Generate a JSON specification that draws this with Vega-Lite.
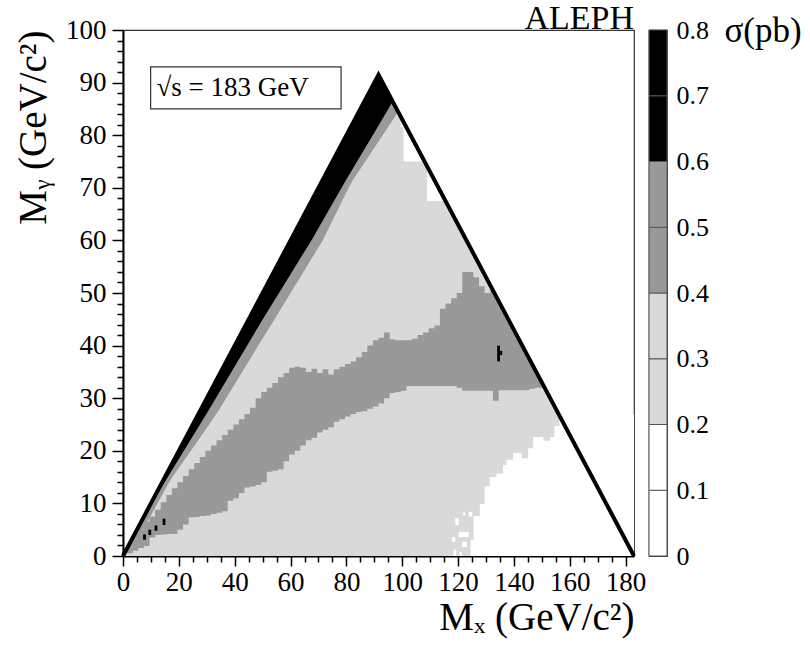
{
  "$schema": "https://vega.github.io/schema/vega-lite/v6.json",
  "background": "white",
  "padding": {"left": 13, "top": 1, "right": 5, "bottom": 5},
  "config": {
    "font": "Liberation Serif",
    "view": {"stroke": "#333", "strokeWidth": 1.2},
    "axis": {"grid": false, "labelFont": "Liberation Serif", "titleFont": "Liberation Serif", "labelColor": "#000", "titleColor": "#000", "titleFontWeight": "normal"}
  },
  "datasets": {
    "triangle": [
      {"mx": 0, "lo": 0, "hi": 0, "s": 0.3},
      {"mx": 91.5, "lo": 0, "hi": 91.5, "s": 0.3},
      {"mx": 183, "lo": 0, "hi": 0, "s": 0.3}
    ],
    "lowwhite": [
      {"mx": 124.5, "lo": 0, "hi": 3, "s": 0.1},
      {"mx": 125.5, "lo": 0, "hi": 7.6, "s": 0.1},
      {"mx": 127.8, "lo": 0, "hi": 9.9, "s": 0.1},
      {"mx": 129.5, "lo": 0, "hi": 13.2, "s": 0.1},
      {"mx": 131.3, "lo": 0, "hi": 15, "s": 0.1},
      {"mx": 133.7, "lo": 0, "hi": 15.7, "s": 0.1},
      {"mx": 136.1, "lo": 0, "hi": 17.3, "s": 0.1},
      {"mx": 137.3, "lo": 0, "hi": 18.3, "s": 0.1},
      {"mx": 139.7, "lo": 0, "hi": 19.6, "s": 0.1},
      {"mx": 142.7, "lo": 0, "hi": 18.6, "s": 0.1},
      {"mx": 145.1, "lo": 0, "hi": 20.5, "s": 0.1},
      {"mx": 146.9, "lo": 0, "hi": 22.6, "s": 0.1},
      {"mx": 150.5, "lo": 0, "hi": 21.9, "s": 0.1},
      {"mx": 152.9, "lo": 0, "hi": 22.6, "s": 0.1},
      {"mx": 154.5, "lo": 0, "hi": 24.7, "s": 0.1},
      {"mx": 156.3, "lo": 0, "hi": 27, "s": 0.1},
      {"mx": 183, "lo": 0, "hi": 27, "s": 0.1}
    ],
    "topwhite": [
      {"mx": 99.5, "lo": 81.5, "hi": 95, "s": 0.1},
      {"mx": 100.5, "lo": 75, "hi": 95, "s": 0.1},
      {"mx": 108.9, "lo": 67.5, "hi": 95, "s": 0.1},
      {"mx": 114.5, "lo": 95, "hi": 95, "s": 0.1}
    ],
    "mainband": [
      {"mx": 1.5, "lo": 0.5, "hi": 1.5, "s": 0.5},
      {"mx": 3.5, "lo": 1, "hi": 3.5, "s": 0.5},
      {"mx": 5.5, "lo": 1.5, "hi": 5, "s": 0.5},
      {"mx": 7.5, "lo": 1.9, "hi": 6.5, "s": 0.5},
      {"mx": 9.5, "lo": 3.5, "hi": 7.5, "s": 0.5},
      {"mx": 11.5, "lo": 4, "hi": 8.8, "s": 0.5},
      {"mx": 13.5, "lo": 4.1, "hi": 10.2, "s": 0.5},
      {"mx": 15.5, "lo": 4.2, "hi": 11.6, "s": 0.5},
      {"mx": 17.5, "lo": 4.2, "hi": 12.9, "s": 0.5},
      {"mx": 19.5, "lo": 5, "hi": 14, "s": 0.5},
      {"mx": 21.5, "lo": 6, "hi": 15.2, "s": 0.5},
      {"mx": 23.5, "lo": 7.3, "hi": 16.5, "s": 0.5},
      {"mx": 25.5, "lo": 7.4, "hi": 17.7, "s": 0.5},
      {"mx": 27.5, "lo": 7.6, "hi": 18.8, "s": 0.5},
      {"mx": 29.5, "lo": 7.7, "hi": 20, "s": 0.5},
      {"mx": 31.5, "lo": 8, "hi": 21, "s": 0.5},
      {"mx": 33.5, "lo": 8.2, "hi": 22, "s": 0.5},
      {"mx": 35.5, "lo": 8.5, "hi": 23, "s": 0.5},
      {"mx": 37.5, "lo": 10.5, "hi": 24, "s": 0.5},
      {"mx": 39.5, "lo": 11, "hi": 25, "s": 0.5},
      {"mx": 41.5, "lo": 12, "hi": 26, "s": 0.5},
      {"mx": 43.5, "lo": 13, "hi": 27, "s": 0.5},
      {"mx": 45.5, "lo": 13.2, "hi": 28.2, "s": 0.5},
      {"mx": 47.5, "lo": 13.5, "hi": 30, "s": 0.5},
      {"mx": 49.5, "lo": 14, "hi": 31.2, "s": 0.5},
      {"mx": 51.5, "lo": 16, "hi": 32, "s": 0.5},
      {"mx": 53.5, "lo": 16.2, "hi": 32.9, "s": 0.5},
      {"mx": 55.5, "lo": 16.5, "hi": 34, "s": 0.5},
      {"mx": 57.5, "lo": 18, "hi": 34.8, "s": 0.5},
      {"mx": 59.5, "lo": 19.3, "hi": 35.8, "s": 0.5},
      {"mx": 61.5, "lo": 20, "hi": 36, "s": 0.5},
      {"mx": 63.5, "lo": 21, "hi": 35.8, "s": 0.5},
      {"mx": 65.5, "lo": 22, "hi": 35, "s": 0.5},
      {"mx": 67.5, "lo": 22.5, "hi": 35.6, "s": 0.5},
      {"mx": 69.5, "lo": 23.5, "hi": 34.8, "s": 0.5},
      {"mx": 71.5, "lo": 24, "hi": 35.5, "s": 0.5},
      {"mx": 73.5, "lo": 24.5, "hi": 34.5, "s": 0.5},
      {"mx": 75.5, "lo": 25.5, "hi": 35.5, "s": 0.5},
      {"mx": 77.5, "lo": 26, "hi": 36, "s": 0.5},
      {"mx": 79.5, "lo": 26.5, "hi": 36.5, "s": 0.5},
      {"mx": 81.5, "lo": 27, "hi": 37, "s": 0.5},
      {"mx": 83.5, "lo": 27.4, "hi": 37.8, "s": 0.5},
      {"mx": 85.5, "lo": 27.5, "hi": 38.8, "s": 0.5},
      {"mx": 87.5, "lo": 28, "hi": 40, "s": 0.5},
      {"mx": 89.5, "lo": 28.4, "hi": 41, "s": 0.5},
      {"mx": 91.5, "lo": 29, "hi": 41.5, "s": 0.5},
      {"mx": 93.5, "lo": 30, "hi": 42.5, "s": 0.5},
      {"mx": 95.5, "lo": 31, "hi": 41.2, "s": 0.5},
      {"mx": 97.5, "lo": 31.2, "hi": 41, "s": 0.5},
      {"mx": 99.5, "lo": 31.4, "hi": 41, "s": 0.5},
      {"mx": 101.5, "lo": 32.3, "hi": 41, "s": 0.5},
      {"mx": 103.5, "lo": 32.3, "hi": 41.3, "s": 0.5},
      {"mx": 105.5, "lo": 32.3, "hi": 42, "s": 0.5},
      {"mx": 107.5, "lo": 32.3, "hi": 42.5, "s": 0.5},
      {"mx": 109.5, "lo": 32.3, "hi": 43.3, "s": 0.5},
      {"mx": 111.5, "lo": 32.3, "hi": 43.8, "s": 0.5},
      {"mx": 113.5, "lo": 32.3, "hi": 47, "s": 0.5},
      {"mx": 115.5, "lo": 32.3, "hi": 48, "s": 0.5},
      {"mx": 117.5, "lo": 32.3, "hi": 49, "s": 0.5},
      {"mx": 119.5, "lo": 32, "hi": 50, "s": 0.5},
      {"mx": 121.5, "lo": 31.4, "hi": 54, "s": 0.5},
      {"mx": 123.5, "lo": 31.4, "hi": 54, "s": 0.5},
      {"mx": 125.5, "lo": 31.4, "hi": 53, "s": 0.5},
      {"mx": 127.5, "lo": 31.4, "hi": 51.3, "s": 0.5},
      {"mx": 129.5, "lo": 31.4, "hi": 50, "s": 0.5},
      {"mx": 131.5, "lo": 31.4, "hi": 50.5, "s": 0.5},
      {"mx": 132.5, "lo": 29.5, "hi": 49.5, "s": 0.5},
      {"mx": 133.5, "lo": 29.5, "hi": 48.5, "s": 0.5},
      {"mx": 134.5, "lo": 31.5, "hi": 47.5, "s": 0.5},
      {"mx": 135.5, "lo": 31.5, "hi": 46.5, "s": 0.5},
      {"mx": 136.5, "lo": 31.5, "hi": 45.5, "s": 0.5},
      {"mx": 137.5, "lo": 31.5, "hi": 44.5, "s": 0.5},
      {"mx": 138.5, "lo": 31.5, "hi": 43.5, "s": 0.5},
      {"mx": 139.5, "lo": 31.5, "hi": 42.5, "s": 0.5},
      {"mx": 140.5, "lo": 31.5, "hi": 41.5, "s": 0.5},
      {"mx": 141.5, "lo": 31.5, "hi": 40.5, "s": 0.5},
      {"mx": 142.5, "lo": 31.5, "hi": 39.5, "s": 0.5},
      {"mx": 143.5, "lo": 31.5, "hi": 38.5, "s": 0.5},
      {"mx": 144.5, "lo": 31.5, "hi": 37.5, "s": 0.5},
      {"mx": 145.5, "lo": 31.8, "hi": 36.5, "s": 0.5},
      {"mx": 146.5, "lo": 31.8, "hi": 35.5, "s": 0.5},
      {"mx": 147.5, "lo": 32, "hi": 34.5, "s": 0.5},
      {"mx": 148.5, "lo": 32, "hi": 33.5, "s": 0.5},
      {"mx": 149.5, "lo": 32, "hi": 32.5, "s": 0.5},
      {"mx": 150.5, "lo": 32, "hi": 32, "s": 0.5}
    ],
    "diaggray": [
      {"mx": 0, "lo": 0, "hi": 0, "s": 0.5},
      {"mx": 4, "lo": 2, "hi": 4, "s": 0.5},
      {"mx": 8, "lo": 5.8, "hi": 8, "s": 0.5},
      {"mx": 16.8, "lo": 14.3, "hi": 15.6, "s": 0.5},
      {"mx": 30.6, "lo": 24.8, "hi": 27.6, "s": 0.5},
      {"mx": 34.2, "lo": 27.6, "hi": 30.8, "s": 0.5},
      {"mx": 49.7, "lo": 41.1, "hi": 44.7, "s": 0.5},
      {"mx": 53.9, "lo": 44.7, "hi": 48.3, "s": 0.5},
      {"mx": 67.5, "lo": 56.5, "hi": 60, "s": 0.5},
      {"mx": 71.5, "lo": 60, "hi": 63.7, "s": 0.5},
      {"mx": 79.7, "lo": 68.8, "hi": 71.3, "s": 0.5},
      {"mx": 82.1, "lo": 71.3, "hi": 73.4, "s": 0.5},
      {"mx": 91.5, "lo": 78.8, "hi": 81.8, "s": 0.5},
      {"mx": 96.6, "lo": 82.9, "hi": 86.4, "s": 0.5},
      {"mx": 98.5, "lo": 84.5, "hi": 84.5, "s": 0.5}
    ],
    "diagblack": [
      {"mx": 8, "lo": 8, "hi": 8, "s": 0.7},
      {"mx": 30.6, "lo": 27.6, "hi": 30.6, "s": 0.7},
      {"mx": 49.7, "lo": 44.7, "hi": 49.7, "s": 0.7},
      {"mx": 67.5, "lo": 60, "hi": 67.5, "s": 0.7},
      {"mx": 79.7, "lo": 71.3, "hi": 79.7, "s": 0.7},
      {"mx": 91.5, "lo": 81.8, "hi": 91.5, "s": 0.7},
      {"mx": 96.6, "lo": 86.4, "hi": 86.4, "s": 0.7}
    ],
    "cells": [
      {"mx": 7.2, "mx2": 8.2, "lo": 3.1, "hi": 4.1, "s": 0.7},
      {"mx": 9.1, "mx2": 10.1, "lo": 4.0, "hi": 5.0, "s": 0.7},
      {"mx": 11.3, "mx2": 12.3, "lo": 4.8, "hi": 5.8, "s": 0.7},
      {"mx": 14.2, "mx2": 15.2, "lo": 5.9, "hi": 7.1, "s": 0.7},
      {"mx": 134.0, "mx2": 135.0, "lo": 37.0, "hi": 40.0, "s": 0.7},
      {"mx": 135.0, "mx2": 135.8, "lo": 38.2, "hi": 39.0, "s": 0.7},
      {"mx": 119.0, "mx2": 120.2, "lo": 5.9, "hi": 7.2, "s": 0.1},
      {"mx": 120.2, "mx2": 123.8, "lo": 3.6, "hi": 4.6, "s": 0.1},
      {"mx": 117.8, "mx2": 119.0, "lo": 2.7, "hi": 3.6, "s": 0.1},
      {"mx": 121.4, "mx2": 123.2, "lo": 1.7, "hi": 2.7, "s": 0.1},
      {"mx": 121.8, "mx2": 122.5, "lo": 7.7, "hi": 8.3, "s": 0.1},
      {"mx": 123.8, "mx2": 125.1, "lo": 7.5, "hi": 8.4, "s": 0.1},
      {"mx": 118.3, "mx2": 119.3, "lo": 0, "hi": 1.2, "s": 0.1},
      {"mx": 120.5, "mx2": 121.3, "lo": 0, "hi": 0.8, "s": 0.1}
    ],
    "kinematic": [
      {"mx": 0, "my": 0},
      {"mx": 91.5, "my": 91.5},
      {"mx": 183, "my": 0}
    ],
    "scale": [
      {"lo": 0.0, "hi": 0.1, "s": 0.05},
      {"lo": 0.1, "hi": 0.2, "s": 0.15},
      {"lo": 0.2, "hi": 0.3, "s": 0.25},
      {"lo": 0.3, "hi": 0.4, "s": 0.35},
      {"lo": 0.4, "hi": 0.5, "s": 0.45},
      {"lo": 0.5, "hi": 0.6, "s": 0.55},
      {"lo": 0.6, "hi": 0.7, "s": 0.65},
      {"lo": 0.7, "hi": 0.8, "s": 0.75}
    ]
  },
  "spacing": 0,
  "hconcat": [
    {
      "width": 511,
      "height": 526,
      "resolve": {"axis": {"x": "independent", "y": "independent"}},
      "layer": [
        {
          "data": {"name": "triangle"},
          "mark": {"type": "area", "interpolate": "linear"},
          "encoding": {
            "x": {
              "field": "mx", "type": "quantitative",
              "scale": {"domain": [0, 183], "nice": false, "zero": false},
              "axis": {
                "orient": "bottom",
                "values": [0, 5, 10, 15, 20, 25, 30, 35, 40, 45, 50, 55, 60, 65, 70, 75, 80, 85, 90, 95, 100, 105, 110, 115, 120, 125, 130, 135, 140, 145, 150, 155, 160, 165, 170, 175, 180],
                "labelExpr": "datum.value % 20 === 0 ? datum.label : ''",
                "tickSize": {"condition": {"test": "datum.value % 20 === 0", "value": 10}, "value": 6},
                "labelOverlap": false, "labelFlush": false, "labelBound": false,
                "domainColor": "#000", "domainWidth": 2, "tickColor": "#000", "tickWidth": 1.5,
                "labelFontSize": 27, "labelPadding": 3,
                "title": "Mₓ (GeV/c²)", "titleAnchor": "end", "titleFontSize": 39, "titlePadding": 3
              }
            },
            "y": {
              "field": "lo", "type": "quantitative",
              "scale": {"domain": [0, 100], "nice": false, "zero": false},
              "axis": {
                "orient": "left",
                "values": [0, 2, 4, 6, 8, 10, 12, 14, 16, 18, 20, 22, 24, 26, 28, 30, 32, 34, 36, 38, 40, 42, 44, 46, 48, 50, 52, 54, 56, 58, 60, 62, 64, 66, 68, 70, 72, 74, 76, 78, 80, 82, 84, 86, 88, 90, 92, 94, 96, 98, 100],
                "labelExpr": "datum.value % 10 === 0 ? datum.label : ''",
                "tickSize": {"condition": {"test": "datum.value % 10 === 0", "value": 11}, "value": 6},
                "labelOverlap": false, "labelFlush": false, "labelBound": false,
                "domainColor": "#000", "domainWidth": 2, "tickColor": "#000", "tickWidth": 1.5,
                "labelFontSize": 27, "labelPadding": 6,
                "title": "Mᵧ (GeV/c²)", "titleAnchor": "end", "titleFontSize": 39, "titlePadding": 12
              }
            },
            "y2": {"field": "hi"},
            "color": {"field": "s", "type": "quantitative", "scale": {"type": "threshold", "domain": [0.2, 0.4, 0.6], "range": ["#ffffff", "#d9d9d9", "#999999", "#000000"]}, "legend": null}
          }
        },
        {
          "data": {"name": "lowwhite"},
          "mark": {"type": "area", "interpolate": "step-after"},
          "encoding": {
            "x": {"field": "mx", "type": "quantitative", "axis": null},
            "y": {"field": "lo", "type": "quantitative", "axis": null},
            "y2": {"field": "hi"},
            "color": {"field": "s", "type": "quantitative", "scale": {"type": "threshold", "domain": [0.2, 0.4, 0.6], "range": ["#ffffff", "#d9d9d9", "#999999", "#000000"]}, "legend": null}
          }
        },
        {
          "data": {"name": "topwhite"},
          "mark": {"type": "area", "interpolate": "step-after"},
          "encoding": {
            "x": {"field": "mx", "type": "quantitative", "axis": null},
            "y": {"field": "lo", "type": "quantitative", "axis": null},
            "y2": {"field": "hi"},
            "color": {"field": "s", "type": "quantitative", "scale": {"type": "threshold", "domain": [0.2, 0.4, 0.6], "range": ["#ffffff", "#d9d9d9", "#999999", "#000000"]}, "legend": null}
          }
        },
        {
          "data": {"name": "mainband"},
          "mark": {"type": "area", "interpolate": "step-after"},
          "encoding": {
            "x": {"field": "mx", "type": "quantitative", "axis": null},
            "y": {"field": "lo", "type": "quantitative", "axis": null},
            "y2": {"field": "hi"},
            "color": {"field": "s", "type": "quantitative", "scale": {"type": "threshold", "domain": [0.2, 0.4, 0.6], "range": ["#ffffff", "#d9d9d9", "#999999", "#000000"]}, "legend": null}
          }
        },
        {
          "data": {"name": "diaggray"},
          "mark": {"type": "area", "interpolate": "linear"},
          "encoding": {
            "x": {"field": "mx", "type": "quantitative", "axis": null},
            "y": {"field": "lo", "type": "quantitative", "axis": null},
            "y2": {"field": "hi"},
            "color": {"field": "s", "type": "quantitative", "scale": {"type": "threshold", "domain": [0.2, 0.4, 0.6], "range": ["#ffffff", "#d9d9d9", "#999999", "#000000"]}, "legend": null}
          }
        },
        {
          "data": {"name": "diagblack"},
          "mark": {"type": "area", "interpolate": "linear"},
          "encoding": {
            "x": {"field": "mx", "type": "quantitative", "axis": null},
            "y": {"field": "lo", "type": "quantitative", "axis": null},
            "y2": {"field": "hi"},
            "color": {"field": "s", "type": "quantitative", "scale": {"type": "threshold", "domain": [0.2, 0.4, 0.6], "range": ["#ffffff", "#d9d9d9", "#999999", "#000000"]}, "legend": null}
          }
        },
        {
          "data": {"name": "cells"},
          "mark": {"type": "rect"},
          "encoding": {
            "x": {"field": "mx", "type": "quantitative", "axis": null},
            "x2": {"field": "mx2"},
            "y": {"field": "lo", "type": "quantitative", "axis": null},
            "y2": {"field": "hi"},
            "color": {"field": "s", "type": "quantitative", "scale": {"type": "threshold", "domain": [0.2, 0.4, 0.6], "range": ["#ffffff", "#d9d9d9", "#999999", "#000000"]}, "legend": null}
          }
        },
        {
          "data": {"name": "kinematic"},
          "mark": {"type": "line", "color": "#000", "strokeWidth": 4, "strokeJoin": "miter"},
          "encoding": {
            "x": {"field": "mx", "type": "quantitative", "axis": null},
            "y": {"field": "my", "type": "quantitative", "axis": null}
          }
        },
        {
          "data": {"values": [{}]},
          "mark": {"type": "rect", "fill": "#ffffff", "stroke": "#333", "strokeWidth": 1.2},
          "encoding": {
            "x": {"datum": 9.9, "type": "quantitative", "axis": null},
            "x2": {"datum": 78.1},
            "y": {"datum": 85, "type": "quantitative", "axis": null},
            "y2": {"datum": 93}
          }
        },
        {
          "data": {"values": [{}]},
          "mark": {"type": "text", "text": "√s = 183 GeV", "font": "Liberation Serif", "fontSize": 27, "align": "left", "baseline": "middle", "color": "#000"},
          "encoding": {
            "x": {"datum": 12, "type": "quantitative", "axis": null},
            "y": {"datum": 89, "type": "quantitative", "axis": null}
          }
        },
        {
          "data": {"values": [{}]},
          "mark": {"type": "text", "text": "ALEPH", "font": "Liberation Serif", "fontSize": 34, "align": "right", "baseline": "alphabetic", "dy": -1, "color": "#000"},
          "encoding": {
            "x": {"datum": 183, "type": "quantitative", "axis": null},
            "y": {"datum": 100, "type": "quantitative", "axis": null}
          }
        }
      ]
    },
    {
      "width": 18,
      "height": 526,
      "data": {"name": "scale"},
      "mark": {"type": "rect", "stroke": "#555", "strokeWidth": 1},
      "encoding": {
        "x": {"datum": 0, "type": "quantitative", "scale": {"domain": [0, 1], "nice": false}, "axis": null},
        "x2": {"datum": 1},
        "y": {
          "field": "lo", "type": "quantitative",
          "scale": {"domain": [0, 0.8], "nice": false, "zero": false},
          "axis": {
            "orient": "right",
            "values": [0, 0.1, 0.2, 0.3, 0.4, 0.5, 0.6, 0.7, 0.8],
            "format": ".1~f",
            "ticks": false, "domain": false,
            "labelPadding": 9, "labelFontSize": 26, "labelFlush": false, "labelOverlap": false,
            "title": "σ(pb)", "titleAngle": 0, "titleAlign": "left", "titleBaseline": "middle",
            "titleX": 57, "titleY": 0, "titleFontSize": 35, "titleFontWeight": "normal"
          }
        },
        "y2": {"field": "hi"},
        "color": {"field": "s", "type": "quantitative", "scale": {"type": "threshold", "domain": [0.2, 0.4, 0.6], "range": ["#ffffff", "#d9d9d9", "#999999", "#000000"]}, "legend": null}
      }
    }
  ]
}
